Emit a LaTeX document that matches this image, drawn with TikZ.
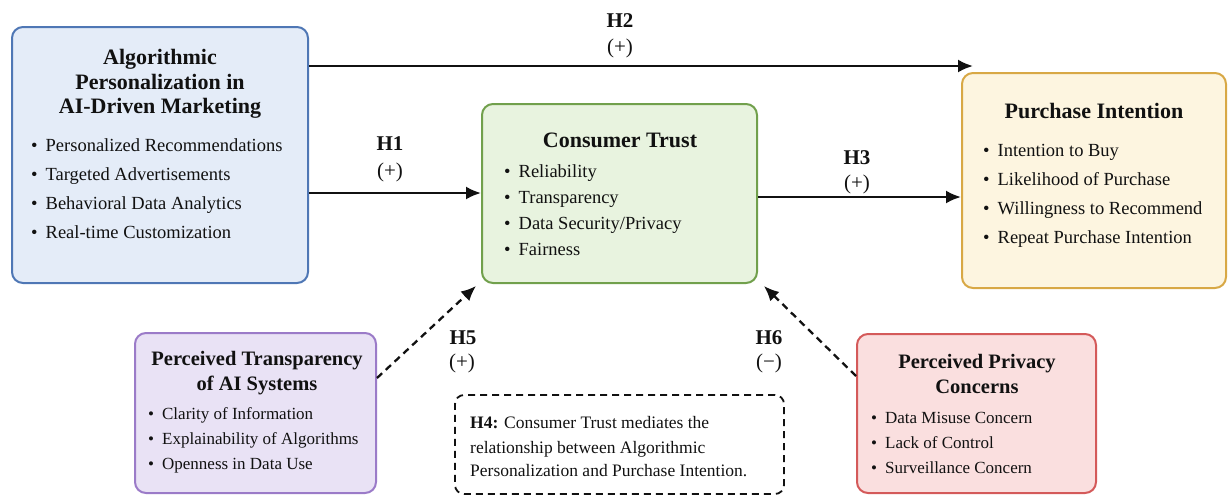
\documentclass[tikz,border=0pt]{standalone}
\usepackage{fontspec}
\setmainfont{Liberation Serif}
\usetikzlibrary{arrows.meta}
\definecolor{bfill}{HTML}{E4ECF8}\definecolor{bdraw}{HTML}{4F77B5}
\definecolor{gfill}{HTML}{E8F3DF}\definecolor{gdraw}{HTML}{71A04C}
\definecolor{yfill}{HTML}{FDF5E0}\definecolor{ydraw}{HTML}{D8A845}
\definecolor{pfill}{HTML}{E9E2F5}\definecolor{pdraw}{HTML}{9B7BC8}
\definecolor{rfill}{HTML}{FADFDF}\definecolor{rdraw}{HTML}{D45A5A}
\definecolor{ink}{HTML}{111111}
\tikzset{
  box/.style={draw, line width=2pt, rounded corners=11pt, inner sep=0pt},
  ttl/.style={font=\fontsize{22}{26}\selectfont\bfseries, text=ink, anchor=base, inner sep=0pt},
  ttls/.style={font=\fontsize{20.5}{24}\selectfont\bfseries, text=ink, anchor=base, inner sep=0pt},
  itm/.style={font=\fontsize{18.5}{22}\selectfont, text=ink, anchor=base west, inner sep=0pt},
  itms/.style={font=\fontsize{17}{20}\selectfont, text=ink, anchor=base west, inner sep=0pt},
  hlab/.style={font=\fontsize{21}{24}\selectfont\bfseries, text=ink, anchor=base, inner sep=0pt},
  slab/.style={font=\fontsize{21}{24}\selectfont, text=ink, anchor=base, inner sep=0pt},
  arr/.style={line width=2.3pt, draw=ink, -{Latex[length=15pt,width=13pt]}},
  darr/.style={arr, dash pattern=on 7pt off 5pt},
}
\begin{document}
\begin{tikzpicture}[x=1pt,y=-1pt]
\useasboundingbox (0,0) rectangle (1228,496);
% boxes
\node[box, fill=bfill, draw=bdraw, minimum width=296pt, minimum height=256pt] (ap) at (160,155) {};
\node[box, fill=gfill, draw=gdraw, minimum width=275pt, minimum height=179pt] (ct) at (619.5,193.5) {};
\node[box, fill=yfill, draw=ydraw, minimum width=264pt, minimum height=215pt] (pi) at (1094,180.5) {};
\node[box, fill=pfill, draw=pdraw, minimum width=241pt, minimum height=160pt] (pt) at (255.5,413) {};
\node[box, fill=rfill, draw=rdraw, minimum width=239pt, minimum height=159pt] (pc) at (976.5,413.5) {};
\node[draw=ink, line width=1.8pt, dash pattern=on 7pt off 5pt, rounded corners=9pt, minimum width=329pt, minimum height=99pt, inner sep=0pt] (h4) at (619.5,444.5) {};
% titles
\node[ttl] (apt1) at (160,64) {Algorithmic};
\node[ttl] (apt2) at (160,89) {Personalization in};
\node[ttl] (apt3) at (160,113) {AI-Driven Marketing};
\node[ttl] (ctt) at (620,147) {Consumer Trust};
\node[ttl] (pit) at (1094,118) {Purchase Intention};
\node[ttls] (ptt1) at (257,365) {Perceived Transparency};
\node[ttls] (ptt2) at (257,390) {of AI Systems};
\node[ttls] (pct1) at (977,368) {Perceived Privacy};
\node[ttls] (pct2) at (977,393) {Concerns};
% items
\foreach \t [count=\i] in {Personalized Recommendations, Targeted Advertisements, Behavioral Data Analytics, Real-time Customization}
  \node[itm] (api\i) at (31,{151+29*(\i-1)}) {•\hspace{8pt}\t};
\foreach \t [count=\i] in {Reliability, Transparency, Data Security/Privacy, Fairness}
  \node[itm] (cti\i) at (504,{177+26.3*(\i-1)}) {•\hspace{8pt}\t};
\foreach \t [count=\i] in {Intention to Buy, Likelihood of Purchase, Willingness to Recommend, Repeat Purchase Intention}
  \node[itm] (pii\i) at (983,{156+29.3*(\i-1)}) {•\hspace{8pt}\t};
\foreach \t [count=\i] in {Clarity of Information, Explainability of Algorithms, Openness in Data Use}
  \node[itms] (pti\i) at (148,{419+25*(\i-1)}) {•\hspace{8pt}\t};
\foreach \t [count=\i] in {Data Misuse Concern, Lack of Control, Surveillance Concern}
  \node[itms] (pci\i) at (871,{423+25*(\i-1)}) {•\hspace{8pt}\t};
% H4 text
\node[itm, font=\fontsize{17.5}{20}\selectfont] (h4a) at (470,428) {\textbf{H4:} Consumer Trust mediates the};
\node[itm, font=\fontsize{17.5}{20}\selectfont] (h4b) at (470,453) {relationship between Algorithmic};
\node[itm, font=\fontsize{17.5}{20}\selectfont] (h4c) at (470,476) {Personalization and Purchase Intention.};
% connectors
\coordinate (h2end) at (973,66);
\draw[arr] (ap.east |- h2end) -- (h2end);
\draw[arr] (ap.east |- 0,193) -- (ct.west |- 0,193);
\draw[arr] (ct.east |- 0,197) -- (pi.west |- 0,197);
\coordinate (h5end) at (476,286);
\draw[darr] (pt.east |- 0,378) -- (h5end);
\coordinate (h6end) at (764,286);
\draw[darr] (pc.west |- 0,376) -- (h6end);
% labels
\node[hlab] (lh2) at (620,27) {H2};
\node[slab] (lp2) at (620,53) {(+)};
\node[hlab] (lh1) at (390,150) {H1};
\node[slab] (lp1) at (390,177) {(+)};
\node[hlab] (lh3) at (857,164) {H3};
\node[slab] (lp3) at (857,189) {(+)};
\node[hlab] (lh5) at (463,344) {H5};
\node[slab] (lp5) at (462,368) {(+)};
\node[hlab] (lh6) at (769,344) {H6};
\node[slab] (lp6) at (769,368) {(−)};
\end{tikzpicture}
\end{document}
